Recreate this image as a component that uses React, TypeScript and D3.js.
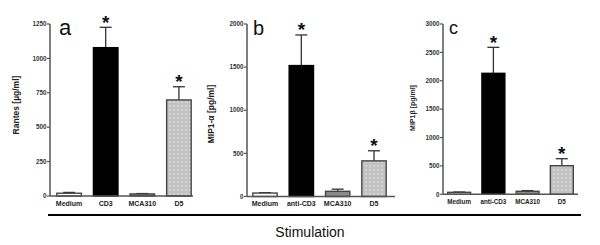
import React from "react";
import * as d3 from "d3";

const catsA = ["Medium", "CD3", "MCA310", "D5"];
const catsBC = ["Medium", "anti-CD3", "MCA310", "D5"];

const rantesMean = [20, 1078, 15, 698];
const rantesErr = [26, 1226, 18, 794];
const mip1aMean = [40, 1518, 60, 413];
const mip1aErr = [45, 1873, 85, 530];
const mip1bMean = [35, 2131, 53, 504];
const mip1bErr = [40, 2589, 65, 627];

const ticksA = [0, 250, 500, 750, 1000, 1250];
const ticksB = [0, 500, 1000, 1500, 2000];
const ticksC = [0, 500, 1000, 1500, 2000, 2500, 3000];

const sigA = [false, true, false, true];
const sigB = [false, true, false, true];
const sigC = [false, true, false, true];

const fills = ["#ffffff", "#000000", "#8a8a8a", "url(#dots)"];

type PanelCfg = {
  letter: string;
  letterX: number;
  letterY: number;
  letterSize: number;
  yLabel: string;
  yLabelX: number;
  yLabelY: number;
  yLabelSize: number;
  cats: string[];
  mean: number[];
  err: number[];
  sig: boolean[];
  ticks: number[];
  axisX0: number;
  axisX1: number;
  band0: number;
  band1: number;
  y0: number;
  y1: number;
  fontSize: number;
};

const panels: PanelCfg[] = [
  {
    letter: "a", letterX: 59, letterY: 34.5, letterSize: 22,
    yLabel: "Rantes [µg/ml]", yLabelX: 19, yLabelY: 105, yLabelSize: 8.5,
    cats: catsA, mean: rantesMean, err: rantesErr, sig: sigA, ticks: ticksA,
    axisX0: 50, axisX1: 193, band0: 55, band1: 193, y0: 196, y1: 24, fontSize: 7,
  },
  {
    letter: "b", letterX: 253, letterY: 35, letterSize: 20,
    yLabel: "MIP1-α [pg/ml]", yLabelX: 214, yLabelY: 114, yLabelSize: 8.5,
    cats: catsBC, mean: mip1aMean, err: mip1aErr, sig: sigB, ticks: ticksB,
    axisX0: 247, axisX1: 395, band0: 251, band1: 388, y0: 196.5, y1: 24, fontSize: 7,
  },
  {
    letter: "c", letterX: 449, letterY: 33.5, letterSize: 18,
    yLabel: "MIP1β [pg/ml]", yLabelX: 415, yLabelY: 108, yLabelSize: 7,
    cats: catsBC, mean: mip1bMean, err: mip1bErr, sig: sigC, ticks: ticksC,
    axisX0: 443, axisX1: 578, band0: 446, band1: 575, y0: 194.3, y1: 24, fontSize: 6.3,
  },
];

function Panel({ p }: { p: PanelCfg }) {
  const x = d3.scaleBand<string>().domain(p.cats).range([p.band0, p.band1]).paddingInner(0.33).paddingOuter(0.05);
  const maxT = p.ticks[p.ticks.length - 1];
  const y = d3.scaleLinear().domain([0, maxT]).range([p.y0, p.y1]);
  const axisCol = "#555";
  return (
    <g fontFamily="Liberation Sans, Arial, sans-serif">
      {p.cats.map((c, i) => {
        const bx = x(c)!;
        const bw = x.bandwidth();
        const cx = bx + bw / 2;
        const top = y(p.mean[i]);
        const et = y(p.err[i]);
        return (
          <g key={c}>
            <line x1={cx} x2={cx} y1={top} y2={et} stroke="#333" strokeWidth={1.3} />
            <line x1={cx - 6} x2={cx + 6} y1={et} y2={et} stroke="#333" strokeWidth={1.3} />
            <rect x={bx} y={top} width={bw} height={p.y0 - top} fill={fills[i]} stroke={i === 1 ? "#000" : "#444"} strokeWidth={1.4} />
            {p.sig[i] && (
              <text x={cx} y={et + 1.5} textAnchor="middle" fontSize={19} fontWeight="bold" fill="#111">*</text>
            )}
            <text x={cx} y={p.y0 + 9.5} textAnchor="middle" fontSize={p.fontSize} fontWeight="bold" fill="#222">{c}</text>
          </g>
        );
      })}
      <line x1={p.axisX0} x2={p.axisX0} y1={p.y0} y2={p.y1} stroke={axisCol} strokeWidth={1.5} />
      <line x1={p.axisX0} x2={p.axisX1} y1={p.y0} y2={p.y0} stroke={axisCol} strokeWidth={1.5} />
      {p.ticks.map((t) => (
        <g key={t}>
          <line x1={p.axisX0 - 3} x2={p.axisX0} y1={y(t)} y2={y(t)} stroke={axisCol} strokeWidth={1.2} />
          <text x={p.axisX0 - 3.5} y={y(t)} dy="0.35em" textAnchor="end" fontSize={6.3} fontWeight="bold" fill="#333">{t}</text>
        </g>
      ))}
      <text x={p.letterX} y={p.letterY} fontSize={p.letterSize} fill="#111">{p.letter}</text>
      <text transform={`translate(${p.yLabelX},${p.yLabelY}) rotate(-90)`} textAnchor="middle" fontSize={p.yLabelSize} fontWeight="bold" fill="#222">{p.yLabel}</text>
    </g>
  );
}

export default function App() {
  return (
    <div>
      <style>{"body{margin:0;background:#fff}"}</style>
      <svg width={600} height={245} viewBox="0 0 600 245" style={{ display: "block" }}>
        <defs>
          <pattern id="dots" width={4} height={4} patternUnits="userSpaceOnUse">
            <rect width={4} height={4} fill="#c2c2c2" />
            <rect x={1} y={1} width={2} height={2} fill="#d4d4d4" />
          </pattern>
        </defs>
        <rect width={600} height={245} fill="#fff" />
        {panels.map((p) => <Panel key={p.letter} p={p} />)}
        <line x1={48} x2={581} y1={215} y2={215} stroke="#000" strokeWidth={2} />
        <text x={310} y={237} textAnchor="middle" fontSize={14} fontFamily="Liberation Sans, Arial, sans-serif" fill="#111">Stimulation</text>
      </svg>
    </div>
  );
}
